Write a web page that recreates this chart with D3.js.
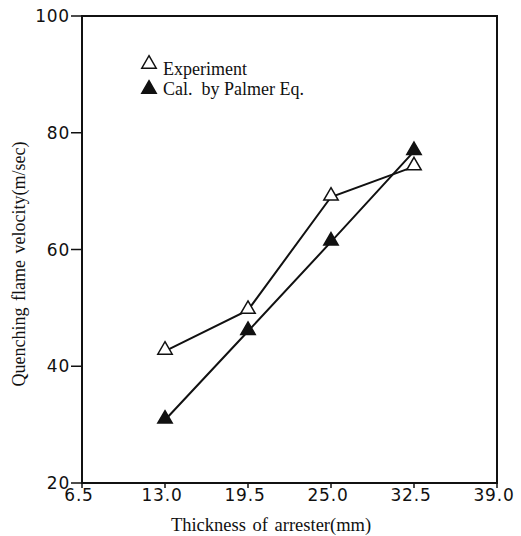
<!DOCTYPE html>
<html>
<head>
<meta charset="utf-8">
<script src="https://cdn.jsdelivr.net/npm/d3@7"></script>
<style>
  body { margin: 0; background: #fff; }
  .tick-label { font-family: "DejaVu Sans", sans-serif; font-size: 17px; letter-spacing: 0.8px; fill: #111; }
  .title { font-family: "Liberation Serif", "Times New Roman", serif; font-size: 18.5px; fill: #111; word-spacing: 2px; }
  .legend-text { font-family: "Liberation Serif", "Times New Roman", serif; font-size: 18px; fill: #111; }
</style>
</head>
<body>
<div class="content"></div>
<script>
// подписи оси x (отметки идут через равные промежутки)
var xTicks = ['6.5', '13.0', '19.5', '25.0', '32.5', '39.0'];
var yTicks = [20, 40, 60, 80, 100];

// точки: толщина и скорость
var thickness = ['13.0', '19.5', '25.0', '32.5'];
var experiment = [42.6, 49.6, 69.0, 74.2];
var palmer = [30.8, 46.0, 61.3, 76.8];

var w = 521,
    h = 536;
var plotL = 82, plotR = 497, plotT = 16, plotB = 483;

var svg = d3.select('.content').append('svg')
    .attr('width', w)
    .attr('height', h);

var x = d3.scalePoint()
    .domain(xTicks)
    .range([plotL, plotR]);

var y = d3.scaleLinear()
    .domain([20, 100])
    .range([plotB, plotT]);

// рамка
svg.append('rect')
    .attr('x', plotL).attr('y', plotT)
    .attr('width', plotR - plotL).attr('height', plotB - plotT)
    .style('fill', 'none').style('stroke', '#111').style('stroke-width', 2);

// отметки по y (наружу)
svg.selectAll('line.ytick')
    .data(yTicks)
    .enter().append('line')
    .attr('class', 'ytick')
    .attr('x1', plotL - 11).attr('x2', plotL)
    .attr('y1', function(d) { return y(d); })
    .attr('y2', function(d) { return y(d); })
    .style('stroke', '#111').style('stroke-width', 1.5);

svg.selectAll('text.ylab')
    .data(yTicks)
    .enter().append('text')
    .attr('class', 'tick-label')
    .attr('x', plotL - 12)
    .attr('y', function(d) { return y(d) + 6; })
    .attr('text-anchor', 'end')
    .text(function(d) { return d; });

// отметки по x (наружу, вниз)
svg.selectAll('line.xtick')
    .data(xTicks)
    .enter().append('line')
    .attr('class', 'xtick')
    .attr('x1', function(d) { return x(d); })
    .attr('x2', function(d) { return x(d); })
    .attr('y1', plotB).attr('y2', plotB + 5)
    .style('stroke', '#111').style('stroke-width', 1.5);

svg.selectAll('text.xlab')
    .data(xTicks)
    .enter().append('text')
    .attr('class', 'tick-label')
    .attr('x', function(d) { return x(d) - 3; })
    .attr('y', plotB + 18)
    .attr('text-anchor', 'middle')
    .text(function(d) { return d; });

// подписи осей
svg.append('text')
    .attr('class', 'title')
    .attr('x', 271).attr('y', 531)
    .attr('text-anchor', 'middle')
    .text('Thickness of arrester(mm)');

svg.append('text')
    .attr('class', 'title')
    .attr('transform', 'translate(25,264) rotate(-90)')
    .style('font-size', '18px')
    .attr('text-anchor', 'middle')
    .text('Quenching flame velocity(m/sec)');

var line = d3.line()
    .x(function(d) { return x(d[0]); })
    .y(function(d) { return y(d[1]); });

var tri = d3.symbol().type(d3.symbolTriangle).size(90);

var series = [
    { values: experiment, fill: '#fff' },
    { values: palmer, fill: '#111' }
];

series.forEach(function(s) {
    var pts = thickness.map(function(t, i) { return [t, s.values[i]]; });
    svg.append('path')
        .attr('d', line(pts))
        .style('fill', 'none').style('stroke', '#111').style('stroke-width', 2);
    svg.selectAll(null)
        .data(pts)
        .enter().append('path')
        .attr('d', tri)
        .attr('transform', function(d) { return 'translate(' + x(d[0]) + ',' + (y(d[1]) - 1) + ')'; })
        .style('fill', s.fill).style('stroke', '#111').style('stroke-width', 1.5);
});

// легенда
var legend = svg.append('g').attr('transform', 'translate(149,0)');
var names = ['Experiment', 'Cal.  by Palmer Eq.'];
var markY = [64, 89], textY = [75, 95];
names.forEach(function(n, i) {
    legend.append('path')
        .attr('d', tri)
        .attr('transform', 'translate(0,' + markY[i] + ')')
        .style('fill', series[i].fill).style('stroke', '#111').style('stroke-width', 1.5);
    legend.append('text')
        .attr('class', 'legend-text')
        .attr('x', 14).attr('y', textY[i])
        .style('white-space', 'pre')
        .text(n);
});
</script>
</body>
</html>
